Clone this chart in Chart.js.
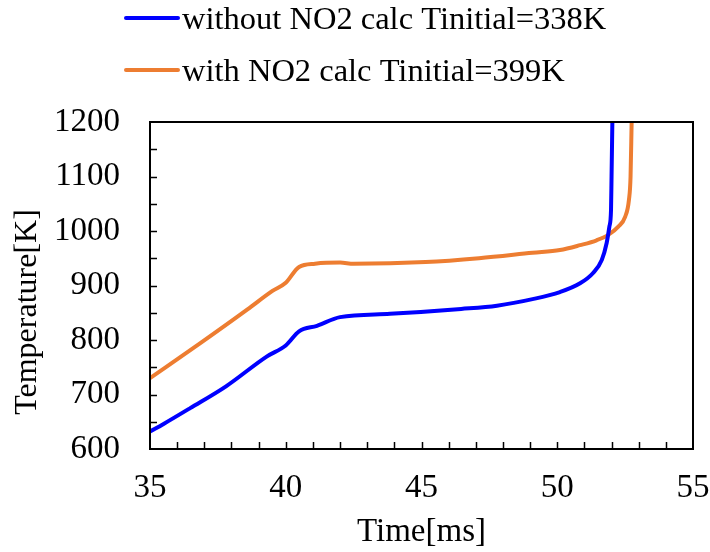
<!DOCTYPE html>
<html>
<head>
<meta charset="utf-8">
<script src="https://cdn.jsdelivr.net/npm/chart.js@4"></script>
<style>
  html, body { margin: 0; padding: 0; background: #fff; }
  #wrap { width: 710px; height: 552px; }
</style>
</head>
<body>
<div id="wrap"><canvas id="tempChart" width="710" height="552"></canvas></div>
<script>
const seriesNames = ["without NO2 calc Tinitial=338K", "with NO2 calc Tinitial=399K"]
const seriesColors = ["#0000ff", "#ed7d31"]

// time [ms] / temperature [K]
const timeNoNO2 = [35.0, 35.5, 36.48, 37.8, 39.31, 40.0, 40.49, 41.15, 42.0, 43.84, 46.46, 47.78, 49.09, 50.1, 50.84, 51.32, 51.64, 51.82, 51.92, 51.98, 52.0, 52.03]
const tempNoNO2 = [632, 646, 675, 715, 770, 790, 816, 826, 842, 848, 857, 863, 875, 888, 904, 923, 947, 978, 1008, 1038, 1100, 1200]

const timeNO2 = [35.0, 36.88, 38.59, 39.51, 40.0, 40.49, 41.08, 42.0, 42.5, 45.15, 47.12, 49.09, 50.1, 50.84, 51.45, 51.88, 52.25, 52.5, 52.64, 52.70, 52.74]
const tempNO2 = [730, 795, 856, 890, 905, 934, 940, 942, 940, 943, 950, 960, 965, 974, 983, 993, 1008, 1026, 1057, 1100, 1200]

const xTitle = "Time[ms]"
const yTitle = "Temperature[K]"

const FONT = "'Liberation Serif', 'Times New Roman', serif"

const toPoints = (xs, ys) => xs.map((x, i) => ({ x: x, y: ys[i] }))

// box, inner ticks, legend and y title
const decorations = {
    id: 'decorations',
    afterDraw(chart) {
        const ctx = chart.ctx
        const a = chart.chartArea
        const xs = chart.scales.x
        const ys = chart.scales.y
        ctx.save()
        ctx.strokeStyle = '#000'
        ctx.lineWidth = 2
        ctx.strokeRect(a.left, a.top, a.right - a.left, a.bottom - a.top)

        ctx.beginPath()
        for (let t = 36; t < 55; t++) {
            const px = Math.round(xs.getPixelForValue(t)) + 0.5
            ctx.moveTo(px, a.bottom)
            ctx.lineTo(px, a.bottom - 7)
        }
        for (let v = 650; v < 1200; v += 50) {
            const py = Math.round(ys.getPixelForValue(v)) + 0.5
            ctx.moveTo(a.left, py)
            ctx.lineTo(a.left + 7, py)
        }
        ctx.lineWidth = 1.5
        ctx.stroke()

        // y title
        ctx.fillStyle = '#000'
        ctx.font = "32px " + FONT
        ctx.textAlign = 'center'
        ctx.textBaseline = 'middle'
        ctx.translate(28, 312)
        ctx.rotate(-Math.PI / 2)
        ctx.fillText(yTitle, 0, 0)
        ctx.restore()

        // legend
        ctx.save()
        const rows = [18, 70]
        chart.data.datasets.forEach((ds, i) => {
            ctx.strokeStyle = ds.borderColor
            ctx.lineWidth = 4
            ctx.lineCap = 'round'
            ctx.beginPath()
            ctx.moveTo(126, rows[i])
            ctx.lineTo(178, rows[i])
            ctx.stroke()
            ctx.fillStyle = '#000'
            ctx.font = "32.5px " + FONT
            ctx.textAlign = 'left'
            ctx.textBaseline = 'middle'
            ctx.fillText(ds.label, 182, rows[i] + 2)
        })
        ctx.restore()
    }
}

new Chart(
    document.getElementById("tempChart"),
    {
        type: "line",
        data: {
            datasets: [
                {
                    label: seriesNames[0],
                    data: toPoints(timeNoNO2, tempNoNO2),
                    borderColor: seriesColors[0],
                    borderWidth: 4,
                    pointRadius: 0,
                    cubicInterpolationMode: 'monotone'
                },
                {
                    label: seriesNames[1],
                    data: toPoints(timeNO2, tempNO2),
                    borderColor: seriesColors[1],
                    borderWidth: 4,
                    pointRadius: 0,
                    cubicInterpolationMode: 'monotone'
                }
            ]
        },
        options: {
            responsive: false,
            animation: false,
            layout: { padding: { top: 122, right: 17, left: 0, bottom: 0 } },
            plugins: {
                legend: { display: false },
                tooltip: { enabled: false }
            },
            scales: {
                x: {
                    type: 'linear',
                    min: 35,
                    max: 55,
                    afterFit: s => {
                        s.height = 103
                        s.paddingLeft = 0
                        s.paddingRight = 0
                    },
                    border: { display: false },
                    grid: { display: false, drawTicks: false },
                    ticks: {
                        stepSize: 5,
                        padding: 20,
                        color: '#000',
                        font: { family: FONT, size: 33 }
                    },
                    title: {
                        display: true,
                        text: xTitle,
                        color: '#000',
                        padding: { top: 4, bottom: 0 },
                        font: { family: FONT, size: 33 }
                    }
                },
                y: {
                    min: 600,
                    max: 1200,
                    afterFit: s => {
                        s.width = 150
                        s.paddingTop = 0
                        s.paddingBottom = 0
                    },
                    border: { display: false },
                    grid: { display: false, drawTicks: false },
                    ticks: {
                        stepSize: 100,
                        padding: 30,
                        color: '#000',
                        font: { family: FONT, size: 33 },
                        callback: v => String(v)
                    }
                }
            }
        },
        plugins: [decorations]
    }
)
</script>
</body>
</html>
